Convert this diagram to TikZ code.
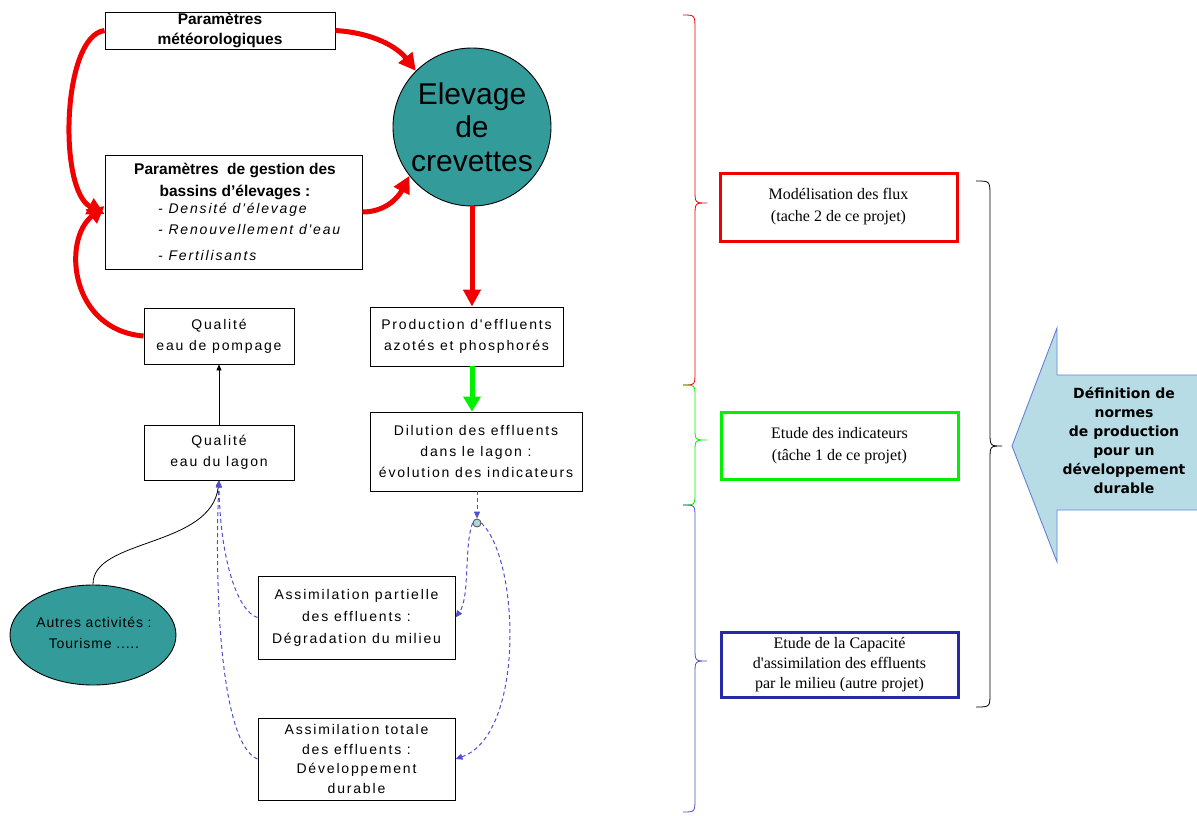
\documentclass[tikz,border=0pt]{standalone}
\usepackage{fontspec}
\setmainfont{Liberation Sans}
\newfontfamily\spfont[LetterSpace=13]{Liberation Sans}
\newfontfamily\spfontb[LetterSpace=6]{Liberation Sans}
\newfontfamily\serifx{Liberation Serif}
\newfontfamily\widebold{DejaVu Sans}
\usetikzlibrary{arrows.meta,shapes.geometric}
\definecolor{teal1}{RGB}{52,155,155}
\definecolor{bluedash}{RGB}{80,80,205}
\definecolor{boxblue}{RGB}{40,40,170}
\definecolor{arrowfill}{RGB}{184,220,230}
\definecolor{arrowline}{RGB}{100,130,210}
\definecolor{redx}{RGB}{240,0,0}
\definecolor{greenx}{RGB}{0,240,0}
\tikzset{
  box/.style={draw=black, line width=0.9pt, fill=white, inner sep=2pt, align=center, font=\spfont\fontsize{14}{21}\selectfont},
  redarrow/.style={draw=redx, line width=5pt, -{Triangle[length=17pt,width=17pt]}},
  greenarrow/.style={draw=greenx, line width=5pt, -{Triangle[length=15pt,width=17pt]}},
  thinarrow/.style={draw=black, line width=0.8pt, -{Triangle[length=6pt,width=5pt]}},
  bluearrow/.style={draw=bluedash, line width=1pt, dash pattern=on 4pt off 3pt, -{Triangle[length=7pt,width=6pt]}},
  sidebox/.style={line width=3pt, fill=white, minimum width=237pt, align=center, font=\serifx\fontsize{16}{22}\selectfont},
  bracepath/.style={line width=0.8pt},
}
\begin{document}
\begin{tikzpicture}[x=1pt,y=-1pt]
\useasboundingbox (0,0) rectangle (1197,816);

% Nodes
\node[box, minimum width=230pt, minimum height=37pt, inner sep=0pt, font=\bfseries\fontsize{15.5}{20}\selectfont] (meteo) at (220,30.5) {Paramètres\\météorologiques};
\node[draw=black, line width=0.9pt, minimum width=257pt, minimum height=114pt] (gest) at (233.5,212) {};
\node[font=\bfseries\fontsize{15.5}{22}\selectfont, align=center, inner sep=0pt] (gestT) at (235,181) {Paramètres\ \ de gestion des\\bassins d'élevages :};
\node[font=\itshape\spfont\fontsize{14}{20.5}\selectfont, align=left, inner sep=0pt, anchor=north west] (gestL) at (158,203) {- Densité d'élevage\\- Renouvellement d'eau\\[6pt]- Fertilisants};

\node[circle, draw=black, line width=0.9pt, fill=teal1, minimum size=158pt, inner sep=0pt, align=center, font=\fontsize{30}{33.5}\selectfont] (elev) at (472,127) {Elevage\\de\\crevettes};

\node[box, minimum width=150pt, minimum height=56pt] (pomp) at (219,336) {Qualité\\eau de pompage};
\node[box, minimum width=150pt, minimum height=55pt] (lagon) at (219,452.5) {Qualité\\eau du lagon};
\node[box, minimum width=193pt, minimum height=59pt] (prod) at (466.5,336.5) {Production d'effluents\\azotés et phosphorés};
\node[box, minimum width=212pt, minimum height=79pt] (dil) at (476,451.5) {Dilution des effluents\\dans le lagon :\\évolution des indicateurs};
\node[ellipse, draw=black, line width=0.9pt, fill=teal1, minimum width=166pt, minimum height=100pt, inner sep=0pt] (autres) at (93,635) {};
\node[align=center, inner sep=0pt, font=\spfontb\fontsize{14}{21}\selectfont] (autresT) at (94,633) {Autres activités :\\Tourisme .....};
\node[box, minimum width=197pt, minimum height=83pt, font=\spfont\fontsize{14}{22}\selectfont] (part) at (356.5,617.5) {Assimilation partielle\\des effluents :\\Dégradation du milieu};
\node[box, minimum width=197pt, minimum height=82pt, font=\spfont\fontsize{14}{19.5}\selectfont] (tot) at (356.5,759) {Assimilation totale\\des effluents :\\Développement\\durable};
\node[circle, draw=black!70, line width=0.8pt, fill=teal1!40, minimum size=8pt, inner sep=0pt] (junc) at (477,523) {};

% Right side boxes
\node[sidebox, draw=redx, minimum height=68pt] (modf) at (838.5,207) {Modélisation des flux\\(tache 2 de ce projet)};
\node[sidebox, draw=greenx, minimum height=67pt] (indic) at (839.5,445.5) {Etude des indicateurs\\(tâche 1 de ce projet)};
\node[sidebox, draw=boxblue, minimum height=65pt, font=\serifx\fontsize{16}{20}\selectfont] (capa) at (839.5,664.5) {Etude de la Capacité\\d'assimilation des effluents\\par le milieu (autre projet)};

% Big arrow
\draw[draw=arrowline, line width=0.9pt, fill=arrowfill] (1012,446) -- (1057,328) -- (1057,375) -- (1198,375) -- (1198,510) -- (1057,510) -- (1057,562) -- cycle;
\node[align=center, font=\widebold\bfseries\fontsize{14}{19}\selectfont, inner sep=0pt] (defn) at (1124,440) {Définition de\\normes\\de production\\pour un\\développement\\durable};

% Braces
\draw[bracepath, draw=redx] (683,15) .. controls (695,15) .. (695,30) -- (695,190) .. controls (695,203) .. (707,203) .. controls (695,203) .. (695,216) -- (695,372) .. controls (695,385) .. (683,385);
\draw[bracepath, draw=greenx] (683,385) .. controls (695,385) .. (695,397) -- (695,428) .. controls (695,440) .. (707,440) .. controls (695,440) .. (695,452) -- (695,493) .. controls (695,505) .. (683,505);
\draw[bracepath, draw=bluedash] (683,505) .. controls (695,505) .. (695,518) -- (695,648) .. controls (695,661) .. (707,661) .. controls (695,661) .. (695,674) -- (695,798) .. controls (695,812) .. (683,812);
\draw[bracepath, draw=black] (976,181) .. controls (990,181) .. (990,196) -- (990,432) .. controls (990,446) .. (1002,446) .. controls (990,446) .. (990,460) -- (990,693) .. controls (990,707) .. (976,707);

% Red connectors
\draw[redarrow] (meteo.east) .. controls (375,33) and (398,48) .. (elev.135);
\draw[redarrow] (meteo.west) .. controls (62,36) and (58,190) .. ([yshift=-2pt]gest.west);
\draw[redarrow] (pomp.west) .. controls (70,330) and (62,240) .. ([yshift=6pt]gest.west);
\draw[redarrow] (gest.east) .. controls (385,212) and (398,198) .. (elev.218);
\draw[redarrow] (elev.south) -- (elev.south |- prod.north);
\draw[greenarrow] (prod.south -| elev.south) -- (dil.north -| elev.south);

% Black connectors
\draw[thinarrow] (lagon.north) -- (pomp.south);
\draw[thinarrow] (autres.north) .. controls (92,538) and (212,548) .. (lagon.south);

% Blue dashed connectors
\draw[bluearrow] ([xshift=1pt]dil.south) -- (junc.north);
\draw[bluearrow] (junc.west) .. controls (464,545) and (470,598) .. (part.east);
\draw[bluearrow] (junc.east) .. controls (520,560) and (525,735) .. (tot.east);
\draw[bluearrow] (part.west) .. controls (238,612) and (220,560) .. (lagon.south);
\draw[bluearrow] (tot.west) .. controls (222,745) and (214,600) .. (lagon.south);
\end{tikzpicture}
\end{document}
